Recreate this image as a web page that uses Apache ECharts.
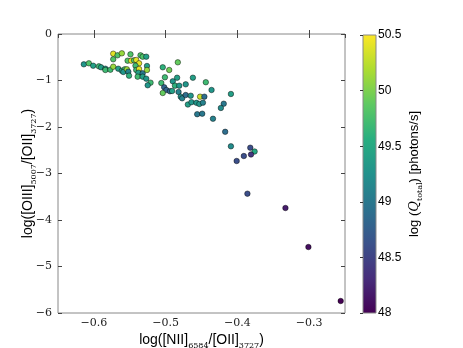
<!DOCTYPE html>
<html>
<head>
<meta charset="utf-8">
<script src="https://cdn.jsdelivr.net/npm/echarts@6/dist/echarts.min.js"></script>
<style>
  html, body { margin: 0; padding: 0; background: #fff; }
  #main { width: 463px; height: 348px; }
</style>
</head>
<body>
<div id="main"></div>
<script>
'use strict';

// log([NII]6584/[OII]3727)
var xValues = [
  -0.614, -0.607, -0.601, -0.593, -0.590, -0.584, -0.584, -0.577, -0.573, -0.573,
  -0.567, -0.561, -0.573, -0.566, -0.561, -0.557, -0.559, -0.554, -0.552, -0.551,
  -0.549, -0.553, -0.548, -0.544, -0.541, -0.537, -0.535, -0.532, -0.527, -0.542,
  -0.541, -0.537, -0.538, -0.532, -0.526, -0.526, -0.539, -0.532, -0.527, -0.521,
  -0.525, -0.504, -0.495, -0.483, -0.506, -0.501, -0.490, -0.484, -0.502, -0.499,
  -0.494, -0.504, -0.487, -0.481, -0.491, -0.482, -0.472, -0.462, -0.444, -0.479,
  -0.477, -0.472, -0.465, -0.452, -0.446, -0.469, -0.464, -0.457, -0.453, -0.448,
  -0.436, -0.409, -0.456, -0.449, -0.434, -0.419, -0.423, -0.417, -0.409, -0.382,
  -0.376, -0.381, -0.391, -0.401, -0.386, -0.333, -0.301, -0.256
];
// log([OIII]5007/[OII]3727)
var yValues = [
  -0.652, -0.630, -0.682, -0.695, -0.716, -0.746, -0.774, -0.768, -0.703, -0.424,
  -0.458, -0.415, -0.544, -0.746, -0.789, -0.759, -0.817, -0.759, -0.811, -0.897,
  -0.437, -0.574, -0.574, -0.566, -0.559, -0.630, -0.458, -0.488, -0.488, -0.682,
  -0.774, -0.753, -0.832, -0.845, -0.688, -0.774, -0.918, -0.918, -0.961, -1.047,
  -1.103, -0.716, -0.774, -0.609, -1.054, -0.931, -1.017, -0.940, -1.146, -1.204,
  -1.232, -1.269, -1.112, -1.112, -1.226, -1.247, -1.082, -0.940, -1.037, -1.348,
  -1.383, -1.312, -1.327, -1.348, -1.348, -1.516, -1.467, -1.480, -1.505, -1.477,
  -1.204, -1.290, -1.725, -1.714, -1.822, -1.499, -1.591, -2.103, -2.415, -2.445,
  -2.527, -2.591, -2.624, -2.731, -3.434, -3.742, -4.581, -5.742
];
// log(Q_total) [photons/s]
var qValues = [
  49.3, 49.8, 49.4, 49.7, 49.4, 49.3, 49.7, 49.7, 50.1, 50.4,
  49.8, 50.1, 49.8, 49.4, 49.4, 49.7, 49.3, 50.1, 49.1, 49.6,
  49.8, 49.8, 50.4, 49.8, 50.4, 50.4, 49.8, 49.8, 49.4, 49.7,
  49.7, 50.4, 49.4, 49.0, 49.4, 50.1, 49.7, 49.4, 49.3, 49.7,
  49.3, 49.6, 49.95, 49.9, 49.7, 49.7, 49.3, 49.4, 48.8, 48.8,
  48.8, 49.9, 49.6, 49.3, 49.4, 49.1, 49.3, 49.4, 49.7, 49.3,
  49.1, 48.9, 49.3, 50.3, 48.9, 49.4, 49.3, 49.3, 49.3, 49.1,
  49.3, 49.4, 49.0, 49.0, 49.1, 49.0, 49.2, 48.9, 49.2, 48.6,
  49.5, 48.4, 48.6, 48.6, 48.6, 48.2, 48.1, 48.0
];

var viridis = ['#440154', '#472d7b', '#3b528b', '#2c728e', '#21918c',
               '#28ae80', '#5ec962', '#addc30', '#fde725'];

var points = xValues.map(function (x, i) {
    return [x, yValues[i], qValues[i]];
});

function minus(v) {
    return String(v).replace('-', '\u2212');
}

var frameColor = '#888';
var tickFont = 'DejaVu Serif';
var sansFont = 'Liberation Sans';

var gradientStops = viridis.map(function (c, i) {
    return { offset: 1 - i / (viridis.length - 1), color: c };
});

var myChart = echarts.init(document.getElementById('main'));

var option = {
    backgroundColor: '#fff',
    animation: false,
    grid: [
        {
            left: 58, top: 34, right: 118, bottom: 35, show: true, outerBoundsMode: 'none',
            borderColor: frameColor, borderWidth: 1
        },
        {
            left: 363, top: 35, width: 13, height: 278, show: true, outerBoundsMode: 'none',
            borderColor: frameColor, borderWidth: 1,
            backgroundColor: { type: 'linear', x: 0, y: 0, x2: 0, y2: 1, colorStops: gradientStops }
        }
    ],
    xAxis: [
        {
            gridIndex: 0, type: 'value', min: -0.65, max: -0.25, position: 'bottom',
            axisLine: { show: false },
            axisTick: { inside: true, length: 4, lineStyle: { color: '#444' } },
            axisLabel: {
                formatter: minus, fontFamily: tickFont, fontSize: 11, color: '#222', margin: 5,
                showMinLabel: false, showMaxLabel: false
            },
            splitLine: { show: false },
            name: '{a|log([NII]}{s|6584}{a|/[OII]}{s|3727}{a|)}',
            nameLocation: 'middle', nameGap: 14, nameMoveOverlap: false,
            nameTextStyle: {
                rich: {
                    a: { fontFamily: sansFont, fontSize: 14, color: '#000', lineHeight: 20, verticalAlign: 'bottom' },
                    s: { fontFamily: tickFont, fontSize: 8, color: '#000', lineHeight: 20, verticalAlign: 'bottom', padding: [0, 0, -3, 0] }
                }
            }
        },
        {
            gridIndex: 0, type: 'value', min: -0.65, max: -0.25, position: 'top',
            axisLine: { show: false },
            axisTick: { inside: true, length: 4, lineStyle: { color: '#444' } },
            axisLabel: { show: false },
            splitLine: { show: false }
        },
        { gridIndex: 1, type: 'value', show: false, min: 0, max: 1 }
    ],
    yAxis: [
        {
            gridIndex: 0, type: 'value', min: -6, max: 0, interval: 1, position: 'left',
            axisLine: { show: false },
            axisTick: { inside: true, length: 4, lineStyle: { color: '#444' } },
            axisLabel: { formatter: minus, fontFamily: tickFont, fontSize: 11, color: '#222', margin: 6 },
            splitLine: { show: false },
            name: '{a|log([OIII]}{s|5007}{a|/[OII]}{s|3727}{a|)}',
            nameLocation: 'middle', nameGap: 23, nameRotate: 90, nameMoveOverlap: false,
            nameTextStyle: {
                rich: {
                    a: { fontFamily: sansFont, fontSize: 14, color: '#000', lineHeight: 20, verticalAlign: 'bottom' },
                    s: { fontFamily: tickFont, fontSize: 8, color: '#000', lineHeight: 20, verticalAlign: 'bottom', padding: [0, 0, -3, 0] }
                }
            }
        },
        {
            gridIndex: 0, type: 'value', min: -6, max: 0, interval: 1, position: 'right',
            axisLine: { show: false },
            axisTick: { inside: true, length: 4, lineStyle: { color: '#444' } },
            axisLabel: { show: false },
            splitLine: { show: false }
        },
        {
            gridIndex: 1, type: 'value', min: 48, max: 50.5, interval: 0.5, position: 'right',
            axisLine: { show: false },
            axisTick: { inside: true, length: 3, lineStyle: { color: '#333' } },
            axisLabel: { fontFamily: sansFont, fontSize: 12, color: '#000', margin: 2 },
            splitLine: { show: false },
            name: '{a|log (}{q|Q}{s|total}{a|) [photons/s]}',
            nameLocation: 'middle', nameGap: 25, nameRotate: 90,
            nameTextStyle: {
                rich: {
                    a: { fontFamily: sansFont, fontSize: 13, color: '#000', lineHeight: 20, verticalAlign: 'bottom' },
                    q: { fontFamily: tickFont, fontStyle: 'italic', fontSize: 13, color: '#000', lineHeight: 20, verticalAlign: 'bottom' },
                    s: { fontFamily: tickFont, fontSize: 8, color: '#000', lineHeight: 20, verticalAlign: 'bottom', padding: [0, 0, -3, 0] }
                }
            }
        }
    ],
    visualMap: {
        show: false,
        type: 'continuous',
        seriesIndex: 0,
        dimension: 2,
        min: 48,
        max: 50.5,
        inRange: { color: viridis }
    },
    series: [{
        type: 'scatter',
        xAxisIndex: 0,
        yAxisIndex: 0,
        symbolSize: 5.5,
        itemStyle: { borderColor: 'rgba(0,0,0,0.75)', borderWidth: 0.6, opacity: 1 },
        data: points
    }]
};

myChart.setOption(option);
</script>
</body>
</html>
